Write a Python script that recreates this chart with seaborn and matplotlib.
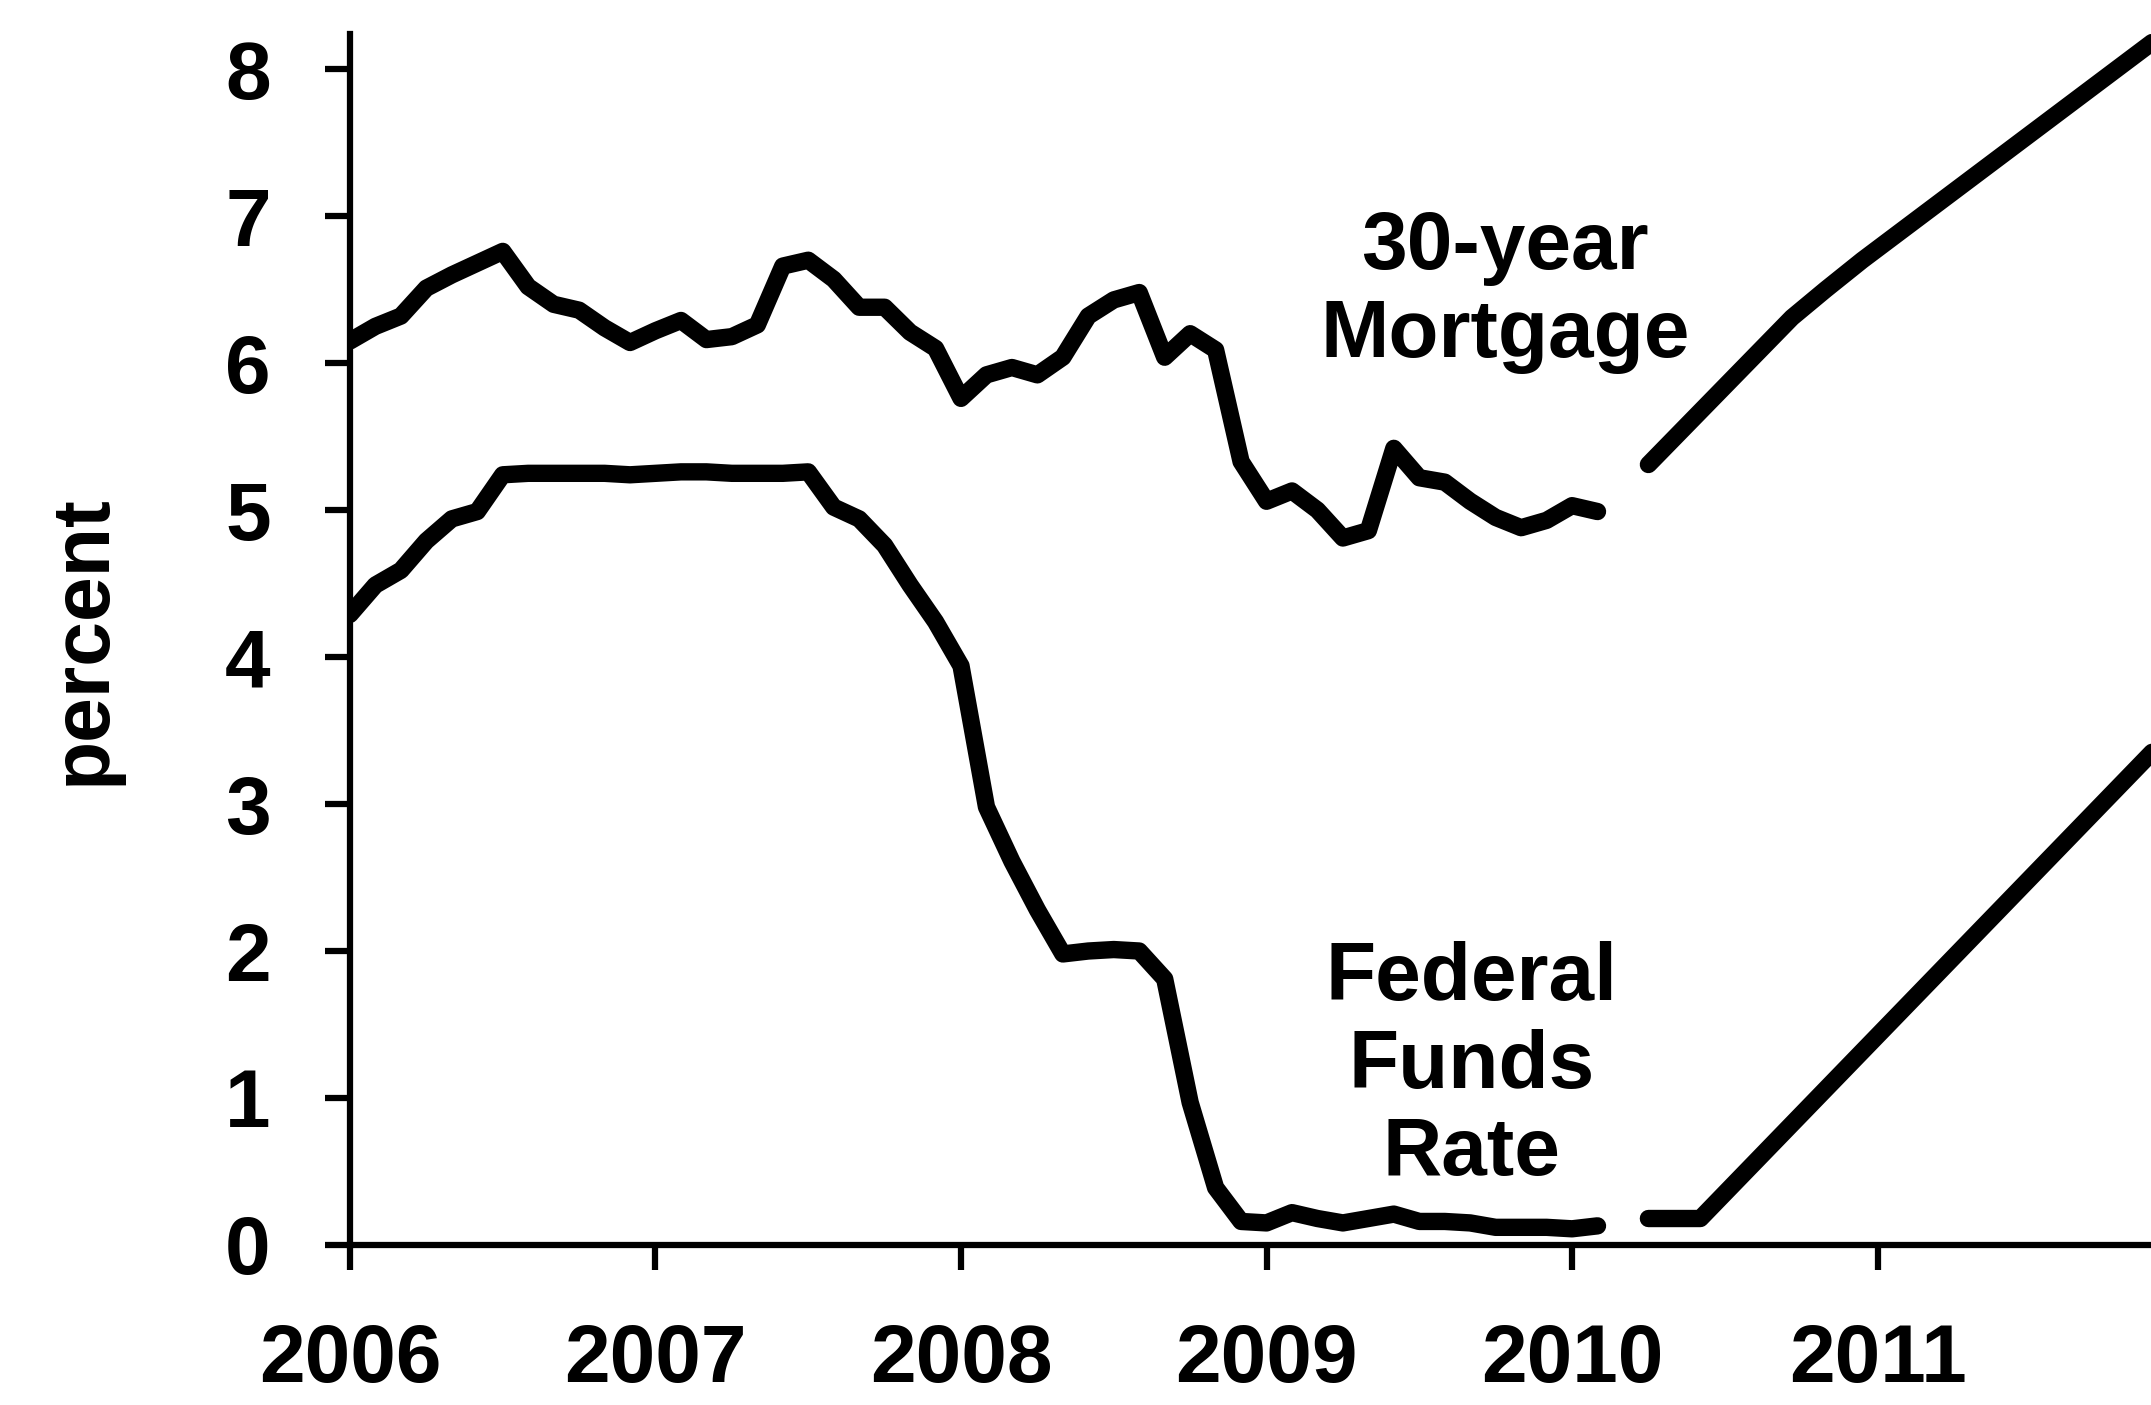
import numpy as np
import pandas as pd
import seaborn as sns
import matplotlib.pyplot as plt

# monthly history, Jan 2006 - Feb 2010 (percent)
mortgage_hist = [6.15, 6.25, 6.32, 6.51, 6.60, 6.68, 6.76, 6.52, 6.40, 6.36, 6.24, 6.14,
                 6.22, 6.29, 6.16, 6.18, 6.26, 6.66, 6.70, 6.57, 6.38, 6.38, 6.21, 6.10,
                 5.76, 5.92, 5.97, 5.92, 6.04, 6.32, 6.43, 6.48, 6.04, 6.20, 6.09, 5.33,
                 5.06, 5.13, 5.00, 4.81, 4.86, 5.42, 5.22, 5.19, 5.06, 4.95, 4.88, 4.93,
                 5.03, 4.99]
fedfunds_hist = [4.29, 4.49, 4.59, 4.79, 4.94, 4.99, 5.24, 5.25, 5.25, 5.25, 5.25, 5.24,
                 5.25, 5.26, 5.26, 5.25, 5.25, 5.25, 5.26, 5.02, 4.94, 4.76, 4.49, 4.24,
                 3.94, 2.98, 2.61, 2.28, 1.98, 2.00, 2.01, 2.00, 1.81, 0.97, 0.39, 0.16,
                 0.15, 0.22, 0.18, 0.15, 0.18, 0.21, 0.16, 0.16, 0.15, 0.12, 0.12, 0.12,
                 0.11, 0.13]
months = 2006 + np.arange(len(mortgage_hist)) / 12

# projected paths
mortgage_proj_x = [2010.25, 2010.72, 2010.83, 2010.95, 2012.0]
mortgage_proj = [5.31, 6.31, 6.50, 6.70, 8.34]
fedfunds_proj_x = [2010.25, 2010.42, 2012.0]
fedfunds_proj = [0.18, 0.18, 3.57]

year_ticks = [2006, 2007, 2008, 2009, 2010, 2011]
pct_ticks = [0, 1, 2, 3, 4, 5, 6, 7, 8]

sns.set_theme(style='ticks')
plt.rcParams['font.family'] = ['Liberation Sans', 'DejaVu Sans']
plt.rcParams['font.weight'] = 'bold'
plt.rcParams['axes.labelweight'] = 'bold'
plt.rcParams['text.color'] = 'black'
plt.rcParams['axes.labelcolor'] = 'black'
plt.rcParams['xtick.color'] = 'black'
plt.rcParams['ytick.color'] = 'black'
plt.rcParams['axes.edgecolor'] = 'black'

hist = pd.DataFrame({'year': months, 'mortgage': mortgage_hist, 'fed': fedfunds_hist})
proj_m = pd.DataFrame({'year': mortgage_proj_x, 'rate': mortgage_proj})
proj_f = pd.DataFrame({'year': fedfunds_proj_x, 'rate': fedfunds_proj})

fig = plt.figure(figsize=(21.51, 14.05), dpi=100)
ax = fig.add_axes([0.1627, 0.1139, 0.8373, 0.862])

line_kw = dict(color='black', linewidth=12.5, solid_capstyle='round', solid_joinstyle='round')
sns.lineplot(data=hist, x='year', y='mortgage', ax=ax, **line_kw)
sns.lineplot(data=hist, x='year', y='fed', ax=ax, **line_kw)
sns.lineplot(data=proj_m, x='year', y='rate', ax=ax, **line_kw)
sns.lineplot(data=proj_f, x='year', y='rate', ax=ax, **line_kw)

ax.set_xlim(2006, 2011.895)
ax.set_ylim(0, 8.24)
ax.set_xticks(year_ticks)
ax.set_xticklabels([str(y) for y in year_ticks])
ax.set_yticks(pct_ticks)
ax.set_xlabel('')
ax.set_ylabel('percent', fontsize=58, fontweight='bold')
ax.yaxis.set_label_coords(-0.127, 0.5)

sns.despine(ax=ax)
for side in ['left', 'bottom']:
    ax.spines[side].set_linewidth(4.5)
ax.tick_params(axis='both', direction='out', length=18, width=4.5, labelsize=59)
ax.tick_params(axis='x', pad=38)
ax.tick_params(axis='y', pad=39)

ax.text(2009.78, 7.04, '30-year\nMortgage', ha='center', va='top',
        fontsize=59, fontweight='bold')
ax.text(2009.67, 2.07, 'Federal\nFunds\nRate', ha='center', va='top',
        fontsize=59, fontweight='bold')

fig.savefig('out.png', dpi=100, facecolor='white')
